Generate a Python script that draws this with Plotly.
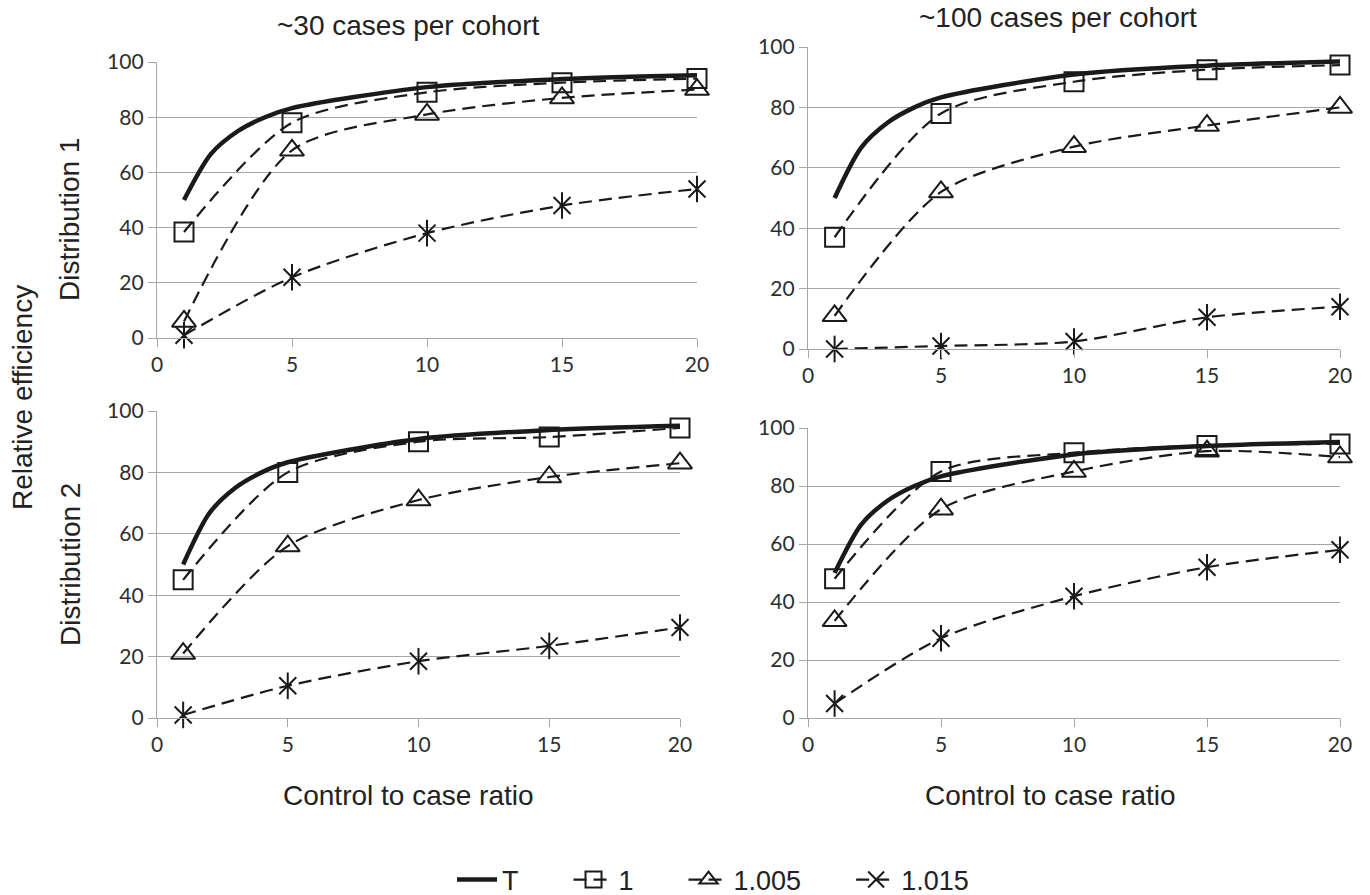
import plotly.graph_objects as go

# ---------------- data ----------------
ratio = [1, 5, 10, 15, 20]
t_ratio = [1, 2, 3, 4, 5, 10, 15, 20]
t_eff = [50, 66.7, 75, 80, 83.3, 90.9, 93.8, 95.2]

# panel order: (30 cases, dist1), (100 cases, dist1), (30 cases, dist2), (100 cases, dist2)
sq_vals = [
    [38.4, 78, 89, 92.5, 94],
    [37, 78, 88.5, 92.5, 94],
    [45, 80, 90, 91.5, 94.5],
    [48, 85, 91.5, 94, 94.5],
]
tri_vals = [
    [6, 68, 81, 87, 90],
    [11, 52, 67, 74, 80],
    [21, 56, 71, 78.5, 83],
    [33.5, 72, 85, 92, 90],
]
star_vals = [
    [1, 22, 38, 48, 54],
    [0, 1, 2.5, 10.5, 14],
    [1, 10.5, 18.5, 23.5, 29.5],
    [5, 27.5, 42, 52, 58],
]
series_names = ["T", "1", "1.005", "1.015"]
col_titles = ["~30 cases per cohort", "~100 cases per cohort"]
row_titles = ["Distribution 1", "Distribution 2"]
x_ticks = [0, 5, 10, 15, 20]
y_ticks = [0, 20, 40, 60, 80, 100]

# ---------------- layout geometry ----------------
W, H = 1370, 895
panels_px = [  # x0, x1, ytop, ybottom
    (157, 697, 62, 338),
    (808, 1340, 47, 349),
    (157, 680, 411, 718),
    (808, 1340, 428, 718),
]

INK = "#1a1a1a"
GRID = "#a6a6a6"
TICKFONT = dict(family="Lato, Liberation Sans, sans-serif", size=21, color="#2e2e2e")
TEXTFONT = dict(family="Liberation Sans, Arial, sans-serif", size=28, color="#222222")
DASH = "13px,7px"
LW = 2.2
PAD = "\u00a0" * 6

fig = go.Figure()

for i, (x0, x1, yt, yb) in enumerate(panels_px):
    n = "" if i == 0 else str(i + 1)
    xa, ya = "x" + n, "y" + n
    first = i == 0
    # T
    fig.add_trace(go.Scatter(
        x=t_ratio, y=t_eff, xaxis=xa, yaxis=ya, mode="lines",
        line=dict(color=INK, width=4.5, shape="spline", smoothing=0.8),
        name=series_names[0] + PAD, showlegend=first, legendgroup="T"))
    # 1
    fig.add_trace(go.Scatter(
        x=ratio, y=sq_vals[i], xaxis=xa, yaxis=ya, mode="lines+markers",
        line=dict(color=INK, width=LW, dash=DASH, shape="spline", smoothing=0.8),
        marker=dict(symbol="square-open", size=19, color=INK, line=dict(width=2, color=INK)),
        cliponaxis=False, name=series_names[1] + PAD, showlegend=first, legendgroup="s1"))
    # 1.005
    fig.add_trace(go.Scatter(
        x=ratio, y=tri_vals[i], xaxis=xa, yaxis=ya, mode="lines+markers",
        line=dict(color=INK, width=LW, dash=DASH, shape="spline", smoothing=0.8),
        marker=dict(symbol="triangle-up-open", size=21, color=INK, line=dict(width=2, color=INK)),
        cliponaxis=False, name=series_names[2] + PAD, showlegend=first, legendgroup="s2"))
    # 1.015 (x arms + vertical arm)
    fig.add_trace(go.Scatter(
        x=ratio, y=star_vals[i], xaxis=xa, yaxis=ya, mode="lines+markers",
        line=dict(color=INK, width=LW, dash=DASH, shape="spline", smoothing=0.8),
        marker=dict(symbol="x-thin-open", size=17, color=INK, line=dict(width=2, color=INK)),
        cliponaxis=False, name=series_names[3], showlegend=first, legendgroup="s3"))
    fig.add_trace(go.Scatter(
        x=ratio, y=star_vals[i], xaxis=xa, yaxis=ya, mode="markers",
        marker=dict(symbol="line-ns-open", size=19, color=INK, line=dict(width=2, color=INK)),
        cliponaxis=False, showlegend=False, legendgroup="s3", hoverinfo="skip"))

    xdom = [x0 / W, x1 / W]
    ydom = [1 - yb / H, 1 - yt / H]
    fig.update_layout({
        "xaxis" + n: dict(domain=xdom, range=[0, 20], tickvals=x_ticks, showgrid=False,
                          showline=True, linecolor=GRID, linewidth=1.3, ticks="outside",
                          ticklen=8, tickcolor=GRID, tickwidth=1.3, tickfont=TICKFONT,
                          zeroline=False, anchor=ya, fixedrange=True, automargin=False),
        "yaxis" + n: dict(domain=ydom, range=[0, 100], tickvals=y_ticks, showgrid=True,
                          gridcolor=GRID, gridwidth=1.3, showline=True, linecolor=GRID,
                          linewidth=1.3, ticks="outside", ticklen=8, tickcolor=GRID,
                          tickwidth=1.3, tickfont=TICKFONT, zeroline=False, anchor=xa,
                          fixedrange=True, automargin=False),
    })

ann = []
# column titles
ann.append(dict(text=col_titles[0], x=408 / W, y=1 - 25 / H, xref="paper", yref="paper",
                showarrow=False, font=TEXTFONT, xanchor="center", yanchor="middle"))
ann.append(dict(text=col_titles[1], x=1058 / W, y=1 - 17 / H, xref="paper", yref="paper",
                showarrow=False, font=TEXTFONT, xanchor="center", yanchor="middle"))
# row titles
ann.append(dict(text=row_titles[0], x=70 / W, y=1 - 220 / H, xref="paper", yref="paper",
                showarrow=False, font=TEXTFONT, textangle=-90,
                xanchor="center", yanchor="middle"))
ann.append(dict(text=row_titles[1], x=70 / W, y=1 - 565 / H, xref="paper", yref="paper",
                showarrow=False, font=TEXTFONT, textangle=-90,
                xanchor="center", yanchor="middle"))
ann.append(dict(text="Relative efficiency", x=22 / W, y=1 - 398 / H, xref="paper", yref="paper",
                showarrow=False, font=TEXTFONT, textangle=-90, xanchor="center", yanchor="middle"))
# x titles
ann.append(dict(text="Control to case ratio", x=408 / W, y=1 - 795 / H, xref="paper", yref="paper",
                showarrow=False, font=TEXTFONT, xanchor="center", yanchor="middle"))
ann.append(dict(text="Control to case ratio", x=1050 / W, y=1 - 795 / H, xref="paper", yref="paper",
                showarrow=False, font=TEXTFONT, xanchor="center", yanchor="middle"))

fig.update_layout(
    width=W, height=H,
    margin=dict(l=0, r=0, t=0, b=0, autoexpand=False),
    paper_bgcolor="white", plot_bgcolor="white",
    annotations=ann,
    showlegend=True,
    legend=dict(orientation="h", x=713 / W, y=1 - 880 / H, xanchor="center", yanchor="middle",
                xref="container", yref="container",
                font=dict(family="Liberation Sans, Arial, sans-serif", size=27, color="#222222"),
                bgcolor="rgba(0,0,0,0)", itemwidth=40, tracegroupgap=0),
)

fig.write_html("out.html", config={"displayModeBar": False},
               post_script="document.body.style.margin='0';document.body.style.overflow='hidden';")
